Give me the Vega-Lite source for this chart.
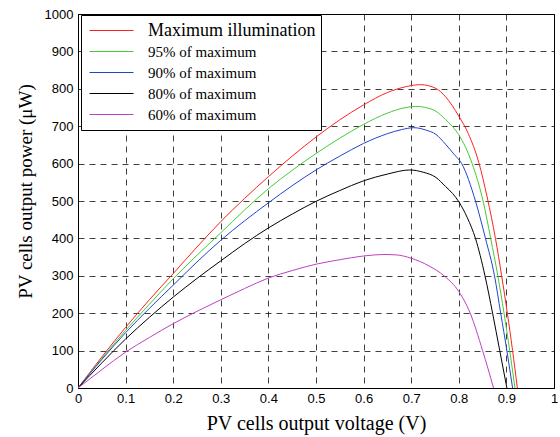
{
  "$schema": "https://vega.github.io/schema/vega-lite/v6.json",
  "width": 476,
  "height": 374,
  "autosize": "none",
  "padding": {"left": 78, "top": 14, "right": 6, "bottom": 49},
  "background": "white",
  "view": {"stroke": "black", "strokeWidth": 1},
  "data": {
    "values": [
      {"s": "Maximum illumination", "v": 0, "p": 0},
      {"s": "Maximum illumination", "v": 0.05, "p": 83},
      {"s": "Maximum illumination", "v": 0.1, "p": 162},
      {"s": "Maximum illumination", "v": 0.15, "p": 236},
      {"s": "Maximum illumination", "v": 0.2, "p": 306},
      {"s": "Maximum illumination", "v": 0.25, "p": 377},
      {"s": "Maximum illumination", "v": 0.3, "p": 445},
      {"s": "Maximum illumination", "v": 0.35, "p": 507},
      {"s": "Maximum illumination", "v": 0.4, "p": 565},
      {"s": "Maximum illumination", "v": 0.45, "p": 620},
      {"s": "Maximum illumination", "v": 0.5, "p": 671},
      {"s": "Maximum illumination", "v": 0.55, "p": 717},
      {"s": "Maximum illumination", "v": 0.6, "p": 757},
      {"s": "Maximum illumination", "v": 0.65, "p": 790},
      {"s": "Maximum illumination", "v": 0.69, "p": 806},
      {"s": "Maximum illumination", "v": 0.72, "p": 811},
      {"s": "Maximum illumination", "v": 0.752, "p": 801},
      {"s": "Maximum illumination", "v": 0.772, "p": 779},
      {"s": "Maximum illumination", "v": 0.8, "p": 727},
      {"s": "Maximum illumination", "v": 0.82, "p": 680},
      {"s": "Maximum illumination", "v": 0.842, "p": 603},
      {"s": "Maximum illumination", "v": 0.86, "p": 508},
      {"s": "Maximum illumination", "v": 0.877, "p": 400},
      {"s": "Maximum illumination", "v": 0.89, "p": 300},
      {"s": "Maximum illumination", "v": 0.902, "p": 200},
      {"s": "Maximum illumination", "v": 0.913, "p": 100},
      {"s": "Maximum illumination", "v": 0.923, "p": 0},
      {"s": "95% of maximum", "v": 0, "p": 0},
      {"s": "95% of maximum", "v": 0.05, "p": 79},
      {"s": "95% of maximum", "v": 0.1, "p": 154},
      {"s": "95% of maximum", "v": 0.15, "p": 224},
      {"s": "95% of maximum", "v": 0.2, "p": 292},
      {"s": "95% of maximum", "v": 0.25, "p": 355},
      {"s": "95% of maximum", "v": 0.3, "p": 415},
      {"s": "95% of maximum", "v": 0.35, "p": 476},
      {"s": "95% of maximum", "v": 0.4, "p": 533},
      {"s": "95% of maximum", "v": 0.45, "p": 582},
      {"s": "95% of maximum", "v": 0.5, "p": 627},
      {"s": "95% of maximum", "v": 0.55, "p": 668},
      {"s": "95% of maximum", "v": 0.6, "p": 705},
      {"s": "95% of maximum", "v": 0.65, "p": 735},
      {"s": "95% of maximum", "v": 0.685, "p": 749},
      {"s": "95% of maximum", "v": 0.71, "p": 753},
      {"s": "95% of maximum", "v": 0.73, "p": 750},
      {"s": "95% of maximum", "v": 0.752, "p": 740},
      {"s": "95% of maximum", "v": 0.772, "p": 718},
      {"s": "95% of maximum", "v": 0.786, "p": 700},
      {"s": "95% of maximum", "v": 0.8, "p": 677},
      {"s": "95% of maximum", "v": 0.828, "p": 600},
      {"s": "95% of maximum", "v": 0.851, "p": 500},
      {"s": "95% of maximum", "v": 0.867, "p": 400},
      {"s": "95% of maximum", "v": 0.882, "p": 300},
      {"s": "95% of maximum", "v": 0.895, "p": 200},
      {"s": "95% of maximum", "v": 0.907, "p": 100},
      {"s": "95% of maximum", "v": 0.918, "p": 0},
      {"s": "90% of maximum", "v": 0, "p": 0},
      {"s": "90% of maximum", "v": 0.05, "p": 76},
      {"s": "90% of maximum", "v": 0.1, "p": 148},
      {"s": "90% of maximum", "v": 0.15, "p": 213},
      {"s": "90% of maximum", "v": 0.2, "p": 275},
      {"s": "90% of maximum", "v": 0.25, "p": 337},
      {"s": "90% of maximum", "v": 0.3, "p": 395},
      {"s": "90% of maximum", "v": 0.35, "p": 447},
      {"s": "90% of maximum", "v": 0.4, "p": 495},
      {"s": "90% of maximum", "v": 0.45, "p": 541},
      {"s": "90% of maximum", "v": 0.5, "p": 583},
      {"s": "90% of maximum", "v": 0.55, "p": 620},
      {"s": "90% of maximum", "v": 0.6, "p": 654},
      {"s": "90% of maximum", "v": 0.65, "p": 680},
      {"s": "90% of maximum", "v": 0.68, "p": 691},
      {"s": "90% of maximum", "v": 0.706, "p": 696},
      {"s": "90% of maximum", "v": 0.73, "p": 690},
      {"s": "90% of maximum", "v": 0.752, "p": 678},
      {"s": "90% of maximum", "v": 0.772, "p": 652},
      {"s": "90% of maximum", "v": 0.79, "p": 625},
      {"s": "90% of maximum", "v": 0.806, "p": 600},
      {"s": "90% of maximum", "v": 0.835, "p": 500},
      {"s": "90% of maximum", "v": 0.856, "p": 400},
      {"s": "90% of maximum", "v": 0.875, "p": 300},
      {"s": "90% of maximum", "v": 0.888, "p": 200},
      {"s": "90% of maximum", "v": 0.901, "p": 100},
      {"s": "90% of maximum", "v": 0.913, "p": 0},
      {"s": "80% of maximum", "v": 0, "p": 0},
      {"s": "80% of maximum", "v": 0.05, "p": 67},
      {"s": "80% of maximum", "v": 0.1, "p": 131},
      {"s": "80% of maximum", "v": 0.15, "p": 189},
      {"s": "80% of maximum", "v": 0.2, "p": 243},
      {"s": "80% of maximum", "v": 0.25, "p": 293},
      {"s": "80% of maximum", "v": 0.3, "p": 340},
      {"s": "80% of maximum", "v": 0.35, "p": 386},
      {"s": "80% of maximum", "v": 0.4, "p": 428},
      {"s": "80% of maximum", "v": 0.45, "p": 465},
      {"s": "80% of maximum", "v": 0.5, "p": 499},
      {"s": "80% of maximum", "v": 0.55, "p": 528},
      {"s": "80% of maximum", "v": 0.6, "p": 554},
      {"s": "80% of maximum", "v": 0.65, "p": 572},
      {"s": "80% of maximum", "v": 0.697, "p": 583},
      {"s": "80% of maximum", "v": 0.725, "p": 577},
      {"s": "80% of maximum", "v": 0.752, "p": 563},
      {"s": "80% of maximum", "v": 0.772, "p": 539},
      {"s": "80% of maximum", "v": 0.787, "p": 520},
      {"s": "80% of maximum", "v": 0.8, "p": 498},
      {"s": "80% of maximum", "v": 0.818, "p": 455},
      {"s": "80% of maximum", "v": 0.835, "p": 400},
      {"s": "80% of maximum", "v": 0.855, "p": 300},
      {"s": "80% of maximum", "v": 0.871, "p": 200},
      {"s": "80% of maximum", "v": 0.886, "p": 100},
      {"s": "80% of maximum", "v": 0.901, "p": 0},
      {"s": "60% of maximum", "v": 0, "p": 0},
      {"s": "60% of maximum", "v": 0.05, "p": 49},
      {"s": "60% of maximum", "v": 0.1, "p": 96},
      {"s": "60% of maximum", "v": 0.15, "p": 135},
      {"s": "60% of maximum", "v": 0.2, "p": 172},
      {"s": "60% of maximum", "v": 0.25, "p": 205},
      {"s": "60% of maximum", "v": 0.3, "p": 236},
      {"s": "60% of maximum", "v": 0.35, "p": 266},
      {"s": "60% of maximum", "v": 0.4, "p": 294},
      {"s": "60% of maximum", "v": 0.45, "p": 314},
      {"s": "60% of maximum", "v": 0.5, "p": 331},
      {"s": "60% of maximum", "v": 0.55, "p": 343},
      {"s": "60% of maximum", "v": 0.6, "p": 353},
      {"s": "60% of maximum", "v": 0.645, "p": 357},
      {"s": "60% of maximum", "v": 0.668, "p": 356},
      {"s": "60% of maximum", "v": 0.7, "p": 347},
      {"s": "60% of maximum", "v": 0.738, "p": 326},
      {"s": "60% of maximum", "v": 0.77, "p": 299},
      {"s": "60% of maximum", "v": 0.8, "p": 258},
      {"s": "60% of maximum", "v": 0.824, "p": 200},
      {"s": "60% of maximum", "v": 0.85, "p": 100},
      {"s": "60% of maximum", "v": 0.873, "p": 0}
    ]
  },
  "mark": {"type": "line", "strokeWidth": 1, "interpolate": "monotone", "clip": true},
  "encoding": {
    "x": {
      "field": "v", "type": "quantitative",
      "scale": {"domain": [0, 1], "nice": false, "zero": false},
      "axis": {
        "title": "PV cells output voltage (V)",
        "values": [0, 0.1, 0.2, 0.3, 0.4, 0.5, 0.6, 0.7, 0.8, 0.9, 1],
        "labelExpr": "format(datum.value, '.1~f')",
        "labelFlush": false, "labelOverlap": false,
        "ticks": false, "labelPadding": 4,
        "labelFont": "Liberation Sans", "labelFontSize": 13, "labelColor": "black",
        "titleFont": "Liberation Serif", "titleFontSize": 20, "titleFontWeight": "normal", "titleColor": "black",
        "titlePadding": 8,
        "domainColor": "black",
        "gridColor": "black", "gridOpacity": 0.75, "gridDash": [6, 5], "gridWidth": 1
      }
    },
    "y": {
      "field": "p", "type": "quantitative",
      "scale": {"domain": [0, 1000], "nice": false},
      "axis": {
        "title": "PV cells output power (μW)",
        "values": [0, 100, 200, 300, 400, 500, 600, 700, 800, 900, 1000],
        "format": "d",
        "labelOverlap": false, "labelFlush": false,
        "ticks": false, "labelPadding": 5,
        "labelFont": "Liberation Sans", "labelFontSize": 13, "labelColor": "black",
        "titleFont": "Liberation Serif", "titleFontSize": 19, "titleFontWeight": "normal", "titleColor": "black",
        "titleX": -53, "titleY": 177, "titleBaseline": "middle", "titleAlign": "center",
        "domainColor": "black",
        "gridColor": "black", "gridOpacity": 0.75, "gridDash": [6, 5], "gridWidth": 1
      }
    },
    "color": {
      "field": "s", "type": "nominal",
      "scale": {
        "domain": ["Maximum illumination", "95% of maximum", "90% of maximum", "80% of maximum", "60% of maximum"],
        "range": ["#ff2020", "#44cc33", "#2244cc", "#000000", "#c040c0"]
      },
      "legend": {
        "title": null,
        "orient": "none", "legendX": 3, "legendY": 1,
        "symbolType": "stroke", "symbolSize": 1936, "symbolStrokeWidth": 1,
        "clipHeight": 21, "rowPadding": 0, "padding": 5, "symbolOffset": 3,
        "labelOffset": 14,
        "labelFont": "Liberation Serif", "labelFontSize": 15, "labelColor": "black",
        "labelLimit": 400,
        "fillColor": "white", "strokeColor": "black",
        "encode": {"labels": {"update": {"fontSize": {"signal": "datum.value === 'Maximum illumination' ? 18 : 15"}}}}
      }
    }
  }
}
